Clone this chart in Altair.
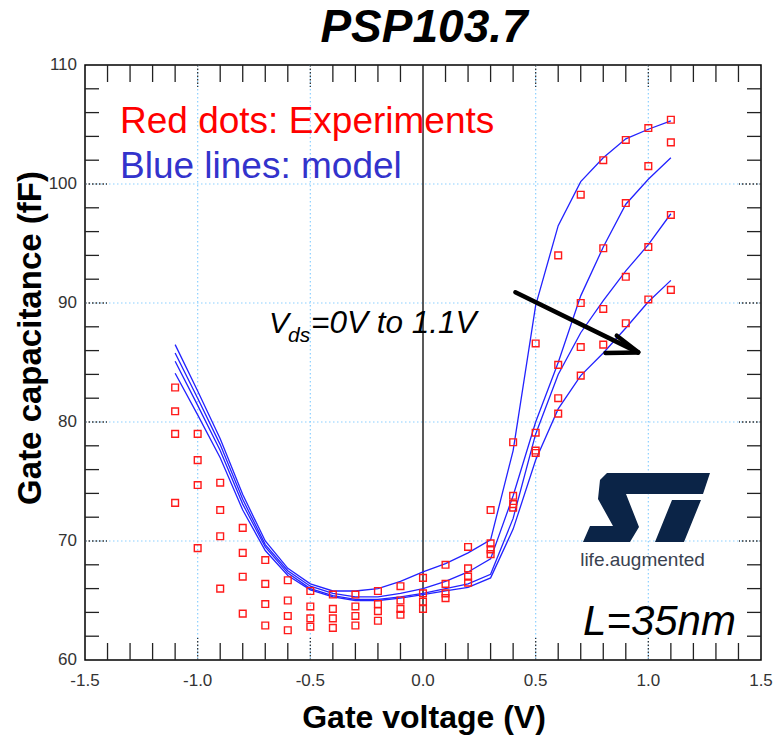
import altair as alt
import pandas as pd

# ---------------- data ----------------
vg = [-1.1, -1.0, -0.9, -0.8, -0.7, -0.6, -0.5, -0.4, -0.3, -0.2, -0.1, 0.0,
      0.1, 0.2, 0.3, 0.4, 0.5, 0.6, 0.7, 0.8, 0.9, 1.0, 1.1]

model_a = [86.5, 82.6, 78.6, 73.9, 70.0, 67.7, 66.4, 65.8, 65.8, 66.0, 66.6, 67.4,
           68.1, 69.0, 70.1, 77.6, 89.8, 96.5, 100.2, 102.2, 103.8, 104.6, 105.3]
model_b = [85.8, 82.0, 78.1, 73.5, 69.7, 67.5, 66.2, 65.6, 65.3, 65.3, 65.6, 66.0,
           66.6, 67.4, 68.5, 73.8, 80.0, 85.0, 90.6, 94.7, 98.3, 100.4, 102.2]
model_c = [85.1, 81.4, 77.6, 73.1, 69.5, 67.3, 66.0, 65.4, 65.1, 65.1, 65.3, 65.6,
           66.0, 66.4, 67.2, 71.9, 79.0, 84.0, 87.5, 90.2, 92.7, 94.9, 97.5]
model_d = [84.1, 80.6, 77.0, 72.6, 69.2, 67.1, 65.9, 65.3, 65.0, 65.0, 65.2, 65.5,
           65.8, 66.1, 66.9, 71.0, 76.8, 81.1, 83.9, 85.8, 87.9, 90.1, 91.9]

exp_1 = [82.9, 79.0, 74.9, 71.1, 68.4, 66.7, 65.8, 65.5, 65.5, 65.8, 66.2, 66.9,
         68.0, 69.5, 72.6, 78.3, 86.6, 94.0, 99.1, 102.0, 103.7, 104.7, 105.4]
exp_2 = [80.9, 76.8, 72.6, 69.0, 66.4, 65.0, 64.5, 64.3, 64.5, 64.7, 65.0, 65.6,
         66.4, 67.7, 69.8, 73.8, 79.1, 84.8, 90.0, 94.6, 98.4, 101.5, 103.5]
exp_3 = [79.0, 74.7, 70.4, 67.0, 64.7, 63.7, 63.5, 63.5, 63.7, 64.1, 64.3, 64.9,
         65.6, 67.0, 69.3, 73.1, 77.6, 82.0, 86.3, 89.5, 92.2, 94.7, 97.4]
exp_4 = [73.2, 69.4, 66.0, 63.9, 62.9, 62.5, 62.8, 62.7, 62.9, 63.3, 63.8, 64.3,
         65.2, 66.5, 68.9, 72.8, 77.4, 80.7, 83.9, 86.5, 88.3, 90.3, 91.1]

model_names = ["model 1", "model 2", "model 3", "model 4"]
exp_names = ["exp 1", "exp 2", "exp 3", "exp 4"]

x_labels = [-1.5, -1.0, -0.5, 0.0, 0.5, 1.0, 1.5]
x_label_text = ["-1.5", "-1.0", "-0.5", "0.0", "0.5", "1.0", "1.5"]
y_labels = [60, 70, 80, 90, 100, 110]
y_label_text = ["60", "70", "80", "90", "100", "110"]
x_grid = [-1.0, -0.5, 0.5, 1.0]
y_grid = [70, 80, 90, 100]
x_minor = [-1.4, -1.3, -1.2, -1.1, -0.9, -0.8, -0.7, -0.6, -0.4, -0.3, -0.2, -0.1,
           0.1, 0.2, 0.3, 0.4, 0.6, 0.7, 0.8, 0.9, 1.1, 1.2, 1.3, 1.4]
y_minor = [62, 64, 66, 68, 72, 74, 76, 78, 82, 84, 86, 88, 92, 94, 96, 98,
           102, 104, 106, 108]
x_major_tick = [-1.0, -0.5, 0.5, 1.0]
y_major_tick = [70, 80, 90, 100]

# arrow (start -> tip) and arrow-head arms, in data units
arrow_x = [0.41, 0.86, 0.81]
arrow_y = [90.9, 87.25, 85.8]
arrow_tip = (0.955, 85.85)

# ---------------- layout ----------------
W, H = 676, 595
LEFT, TOP = 85, 65
FONT = "Liberation Sans"

xs = alt.Scale(domain=[-1.5, 1.5], nice=False, zero=False)
ys = alt.Scale(domain=[60, 110], nice=False, zero=False)

model_rows = []
for name, vals in zip(model_names, [model_a, model_b, model_c, model_d]):
    for v, c in zip(vg, vals):
        model_rows.append({"vg": v, "c": c, "series": name})
model_df = pd.DataFrame(model_rows)

exp_rows = []
for name, vals in zip(exp_names, [exp_1, exp_2, exp_3, exp_4]):
    for v, c in zip(vg, vals):
        exp_rows.append({"vg": v, "c": c, "series": name})
exp_df = pd.DataFrame(exp_rows)

X = lambda f: alt.X(f, type="quantitative", scale=xs, axis=None)
Y = lambda f: alt.Y(f, type="quantitative", scale=ys, axis=None)

layers = []

# grid
layers.append(alt.Chart(pd.DataFrame({"v": x_grid})).mark_rule(
    color="#8ccfff", strokeWidth=1.2, strokeDash=[1.5, 2.5]).encode(
    x=X("v"), y=alt.value(0), y2=alt.value(H)))
layers.append(alt.Chart(pd.DataFrame({"v": y_grid})).mark_rule(
    color="#8ccfff", strokeWidth=1.2, strokeDash=[1.5, 2.5]).encode(
    y=Y("v"), x=alt.value(0), x2=alt.value(W)))
layers.append(alt.Chart(pd.DataFrame({"v": [0.0]})).mark_rule(
    color="#222222", strokeWidth=1.5).encode(x=X("v"), y=alt.value(0), y2=alt.value(H)))

# minor ticks (inward, all four sides)
tx = pd.DataFrame({"v": x_minor})
ty = pd.DataFrame({"v": y_minor})
for y0, y1 in [(H, H - 17), (0, 17)]:
    layers.append(alt.Chart(tx).mark_rule(color="#222222", strokeWidth=1.3).encode(
        x=X("v"), y=alt.value(y0), y2=alt.value(y1)))
for x0, x1 in [(0, 14), (W, W - 14)]:
    layers.append(alt.Chart(ty).mark_rule(color="#222222", strokeWidth=1.3).encode(
        y=Y("v"), x=alt.value(x0), x2=alt.value(x1)))
# major ticks (dark dotted)
txm = pd.DataFrame({"v": x_major_tick})
tym = pd.DataFrame({"v": y_major_tick})
for y0, y1 in [(H, H - 22), (0, 22)]:
    layers.append(alt.Chart(txm).mark_rule(color="#333333", strokeWidth=1.3,
                                           strokeDash=[1.5, 2]).encode(
        x=X("v"), y=alt.value(y0), y2=alt.value(y1)))
for x0, x1 in [(0, 22), (W, W - 22)]:
    layers.append(alt.Chart(tym).mark_rule(color="#333333", strokeWidth=1.3,
                                           strokeDash=[1.5, 2]).encode(
        y=Y("v"), x=alt.value(x0), x2=alt.value(x1)))

# tick labels (drawn through the scales)
layers.append(alt.Chart(pd.DataFrame({"v": x_labels, "t": x_label_text})).mark_text(
    font=FONT, fontSize=17, color="#333333", align="center", baseline="alphabetic").encode(
    x=X("v"), y=alt.value(H + 26), text="t:N"))
layers.append(alt.Chart(pd.DataFrame({"v": y_labels, "t": y_label_text})).mark_text(
    font=FONT, fontSize=17, color="#333333", align="right", baseline="middle").encode(
    y=Y("v"), x=alt.value(-8), text="t:N"))

# model lines
layers.append(alt.Chart(model_df).mark_line(color="#2222ff", strokeWidth=1.3).encode(
    x=X("vg"), y=Y("c"), detail="series:N"))

# experiments
layers.append(alt.Chart(exp_df).mark_point(
    shape="square", filled=False, color="#ff1a1a", size=45, strokeWidth=1.4,
    opacity=1).encode(x=X("vg"), y=Y("c"), detail="series:N"))

# arrow
arrow_df = pd.DataFrame({"x": arrow_x, "y": arrow_y,
                         "x2": [arrow_tip[0]] * 3, "y2": [arrow_tip[1]] * 3})
layers.append(alt.Chart(arrow_df).mark_rule(color="black", strokeWidth=4.5,
                                            strokeCap="round").encode(
    x=X("x"), y=Y("y"), x2="x2:Q", y2="y2:Q"))

# ST logo (custom path)
logo_pts_s = [(607, 473), (710, 473), (703, 494), (626, 494), (639, 527), (630, 542),
              (583, 542), (590, 526), (613, 526), (598, 499), (600, 480)]
logo_pts_t = [(672, 500), (701, 500), (684, 542), (655, 542)]
cx, cy, r = 646.5, 507.5, 63.5


def to_path(pts):
    s = "M" + " L".join(f"{(px - cx) / r:.4f},{(py - cy) / r:.4f}" for px, py in pts)
    return s + " Z"


logo_path = to_path(logo_pts_s) + " " + to_path(logo_pts_t)
layers.append(alt.Chart(pd.DataFrame({"k": [1]})).mark_point(
    shape=logo_path, filled=True, fill="#0b2447", strokeWidth=0, size=(2 * r) ** 2,
    opacity=1).encode(x=alt.value(cx - LEFT), y=alt.value(cy - TOP)))


def txt(text, x, y, size, color="black", style="normal", weight="normal", align="left",
        angle=0):
    return alt.Chart(pd.DataFrame({"t": [text]})).mark_text(
        font=FONT, fontSize=size, fontStyle=style, fontWeight=weight, color=color,
        align=align, baseline="alphabetic", angle=angle).encode(
        text="t:N", x=alt.value(x), y=alt.value(y))


layers += [
    txt("PSP103.7", 424 - LEFT, 42 - TOP, 46, style="italic", weight="bold", align="center"),
    txt("Gate voltage (V)", 424 - LEFT, 728 - TOP, 32, weight="bold", align="center"),
    txt("Gate capacitance (fF)", 41 - LEFT, 338 - TOP, 33, weight="bold", align="center",
        angle=270),
    txt("Red dots: Experiments", 120 - LEFT, 133 - TOP, 37, color="#ff0000"),
    txt("Blue lines: model", 120 - LEFT, 178 - TOP, 37, color="#3333cc"),
    txt("V", 269 - LEFT, 333 - TOP, 30, style="italic"),
    txt("ds", 288 - LEFT, 342 - TOP, 21, style="italic"),
    txt("=0V to 1.1V", 311 - LEFT, 333 - TOP, 31.5, style="italic"),
    txt("L=35nm", 583 - LEFT, 635 - TOP, 42, style="italic"),
    txt("life.augmented", 642.5 - LEFT, 566 - TOP, 19, color="#3a4250", align="center"),
]

chart = alt.layer(*layers).properties(
    width=W, height=H,
    autosize=alt.AutoSizeParams(type="none"),
    padding={"left": LEFT, "top": TOP, "right": 775 - LEFT - W, "bottom": 741 - TOP - H},
).configure_view(stroke="black", strokeWidth=1.5)

chart.save("out.html", embed_options={"renderer": "svg", "actions": False})
